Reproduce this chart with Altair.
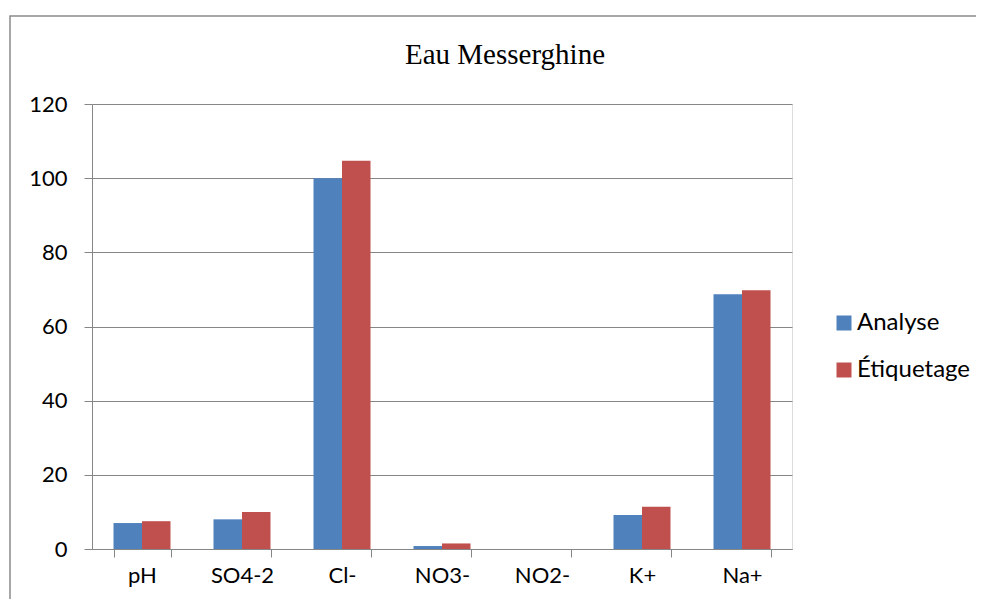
import altair as alt
import pandas as pd

categories = ["pH", "SO4-2", "Cl-", "NO3-", "NO2-", "K+", "Na+"]
analyse = [7.0, 8.0, 100.0, 0.8, 0.0, 9.2, 68.7]
etiquetage = [7.5, 10.0, 104.7, 1.5, 0.0, 11.4, 69.8]
series = ["Analyse", "Étiquetage"]
colors = ["#4F81BD", "#C0504D"]
title_text = "Eau Messerghine"

rows = []
for c, a, e in zip(categories, analyse, etiquetage):
    rows.append({"cat": c, "serie": series[0], "val": a})
    rows.append({"cat": c, "serie": series[1], "val": e})
df = pd.DataFrame(rows)

FONT = "Lato"
GRID = "#868686"

bars = alt.Chart(df).mark_bar().encode(
    x=alt.X("cat:N", sort=categories, title=None,
            scale=alt.Scale(paddingInner=0.43, paddingOuter=0.215),
            axis=alt.Axis(tickBand="extent", labelAngle=0, labelFontSize=22,
                          labelFont=FONT, labelColor="black", labelPadding=8,
                          tickSize=8, tickColor=GRID, domainColor=GRID,
                          grid=False, labelBaseline="top")),
    xOffset=alt.XOffset("serie:N", sort=series, scale=alt.Scale(paddingInner=0, paddingOuter=0)),
    y=alt.Y("val:Q", title=None,
            scale=alt.Scale(domain=[0, 120], nice=False),
            axis=alt.Axis(values=[0, 20, 40, 60, 80, 100, 120], labelFontSize=22,
                          labelFont=FONT, labelColor="black", labelPadding=17,
                          tickSize=8, tickColor=GRID, domainColor=GRID,
                          gridColor=GRID, gridWidth=1)),
    color=alt.Color("serie:N", sort=series,
                    scale=alt.Scale(domain=series, range=colors),
                    legend=alt.Legend(title=None, orient="none", legendX=740, legendY=207,
                                      symbolType="square", symbolSize=225,
                                      symbolStrokeWidth=0, labelFont=FONT,
                                      labelFontSize=24, labelColor="black",
                                      labelOffset=1, rowPadding=23)),
)

frame = alt.Chart(alt.Data(values=[{"k": 1}])).mark_rect(
    fill="transparent", stroke="#8a8a8a", strokeWidth=1.5
).encode(
    x=alt.value(-82), x2=alt.value(960), y=alt.value(-88), y2=alt.value(560)
)

title = alt.Chart(alt.Data(values=[{"t": title_text}])).mark_text(
    font="Liberation Serif", fontSize=29, color="black", align="center",
    baseline="alphabetic"
).encode(x=alt.value(413), y=alt.value(-40), text="t:N")

chart = alt.layer(frame, title, bars).properties(
    width=700, height=445,
    autosize=alt.AutoSizeParams(type="none"),
    padding={"left": 84, "top": 96, "right": 184, "bottom": 50},
).configure_view(stroke=None).configure(background="white")

chart.save("out.html", embed_options={"renderer": "svg", "actions": False})
